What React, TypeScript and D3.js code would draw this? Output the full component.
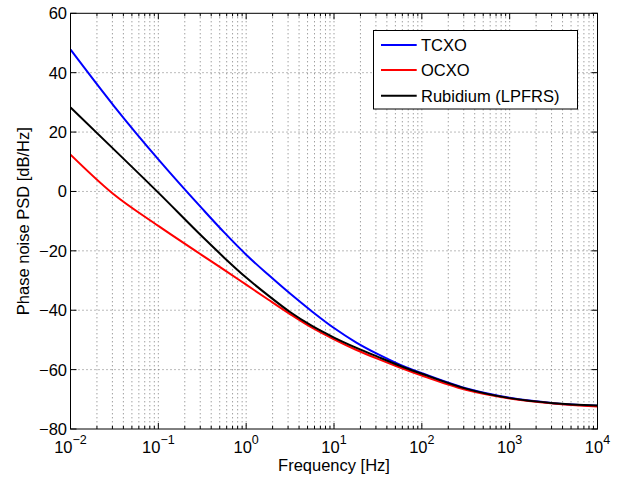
import React from "react";
import * as d3 from "d3";

// ---- data ----
const freqHz = [0.01, 0.0316, 0.1, 0.316, 0.562, 1, 1.778, 3.16, 5.62, 10, 17.78, 31.6, 56.2, 100, 316, 1000, 3162, 10000];
const tcxo = [47.8, 28.6, 10.8, -5.8, -13.8, -21.3, -28.0, -34.4, -40.4, -46.0, -50.8, -54.8, -58.3, -61.2, -66.3, -69.5, -71.3, -72.2];
const rubidium = [28.3, 14.0, -0.4, -15.2, -22.3, -29.0, -35.0, -40.6, -45.3, -49.2, -52.6, -55.7, -58.7, -61.4, -66.4, -69.6, -71.3, -72.1];
const ocxoFreqHz = [0.01, 0.03, 0.1, 0.316, 0.562, 1, 1.778, 3.16, 5.62, 10, 17.78, 31.6, 56.2, 100, 316, 1000, 3162, 10000];
const ocxo = [12.4, -0.6, -11.6, -21.5, -26.4, -31.4, -36.4, -41.3, -45.9, -49.8, -53.3, -56.4, -59.3, -62.0, -66.8, -69.7, -71.4, -72.4];

const seriesNames = ["TCXO", "OCXO", "Rubidium (LPFRS)"];
const seriesColors = ["#0000ff", "#ff0000", "#000000"];
const xDecades = [-2, -1, 0, 1, 2, 3, 4];
const yTicks = [60, 40, 20, 0, -20, -40, -60, -80];
const xLabel = "Frequency [Hz]";
const yLabel = "Phase noise PSD [dB/Hz]";

const W = 627;
const H = 477;
const L = 70.5, R = 597.5, T = 13.3, B = 429;
const FONT = "'Liberation Sans', Arial, Helvetica, sans-serif";

export default function App() {
  const x = d3.scaleLog().domain([1e-2, 1e4]).range([L, R]);
  const y = d3.scaleLinear().domain([-80, 60]).range([B, T]);

  const minorX: number[] = [];
  for (let d = -2; d < 4; d++) {
    for (let k = 2; k <= 9; k++) minorX.push(k * Math.pow(10, d));
  }
  const majorX = xDecades.map((d) => Math.pow(10, d));

  const line = d3
    .line<[number, number]>()
    .x((p) => x(p[0]))
    .y((p) => y(p[1]))
    .curve(d3.curveMonotoneX);

  const series = [
    { name: seriesNames[0], color: seriesColors[0], pts: freqHz.map((f, i) => [f, tcxo[i]] as [number, number]) },
    { name: seriesNames[1], color: seriesColors[1], pts: ocxoFreqHz.map((f, i) => [f, ocxo[i]] as [number, number]) },
    { name: seriesNames[2], color: seriesColors[2], pts: freqHz.map((f, i) => [f, rubidium[i]] as [number, number]) },
  ];
  const gridStyle = { stroke: "#555", strokeWidth: 0.8, strokeDasharray: "1,3" };

  const legX = 373.5, legY = 30.5, legW = 204, legH = 78.5;
  const legRows = [45, 70, 95.7];

  return (
    <svg
      width={W}
      height={H}
      style={{ position: "fixed", left: 0, top: 0, background: "#fff" }}
      fontFamily={FONT}
    >
      <rect x={0} y={0} width={W} height={H} fill="#fff" />
      <defs>
        <clipPath id="plot">
          <rect x={L} y={T} width={R - L} height={B - T} />
        </clipPath>
      </defs>
      {/* grid */}
      <g>
        {minorX.concat(majorX.slice(1, -1)).map((f, i) => (
          <line key={"gx" + i} x1={x(f)} x2={x(f)} y1={T} y2={B} {...gridStyle} />
        ))}
        {yTicks.slice(1, -1).map((v, i) => (
          <line key={"gy" + i} x1={L} x2={R} y1={y(v)} y2={y(v)} {...gridStyle} />
        ))}
      </g>
      {/* curves */}
      <g clipPath="url(#plot)">
        {series.map((s) => (
          <path key={s.name} d={line(s.pts) || ""} fill="none" stroke={s.color} strokeWidth={2} />
        ))}
      </g>
      {/* axes box */}
      <rect x={L} y={T} width={R - L} height={B - T} fill="none" stroke="#000" strokeWidth={1} />
      {/* ticks */}
      <g stroke="#000" strokeWidth={1}>
        {majorX.map((f, i) => (
          <g key={"mx" + i}>
            <line x1={x(f)} x2={x(f)} y1={B} y2={B - 6} />
            <line x1={x(f)} x2={x(f)} y1={T} y2={T + 6} />
          </g>
        ))}
        {minorX.map((f, i) => (
          <g key={"nx" + i}>
            <line x1={x(f)} x2={x(f)} y1={B} y2={B - 3} />
            <line x1={x(f)} x2={x(f)} y1={T} y2={T + 3} />
          </g>
        ))}
        {yTicks.map((v, i) => (
          <g key={"ty" + i}>
            <line x1={L} x2={L + 6} y1={y(v)} y2={y(v)} />
            <line x1={R} x2={R - 6} y1={y(v)} y2={y(v)} />
          </g>
        ))}
      </g>
      {/* y tick labels */}
      <g fontSize={16.5} fill="#000">
        {yTicks.map((v, i) => (
          <text key={"yl" + i} x={L - 3.5} y={y(v)} textAnchor="end" dominantBaseline="central">
            {v < 0 ? "\u2212" + Math.abs(v) : String(v)}
          </text>
        ))}
      </g>
      {/* x tick labels */}
      <g fill="#000">
        {xDecades.map((d, i) => (
          <text key={"xl" + i} x={x(Math.pow(10, d))} y={452.5} textAnchor="middle" fontSize={16.5}>
            <tspan>10</tspan>
            <tspan dy={-8.5} fontSize={12.5}>
              {d < 0 ? "\u2212" + Math.abs(d) : String(d)}
            </tspan>
          </text>
        ))}
      </g>
      {/* axis labels */}
      <text x={(L + R) / 2} y={471} textAnchor="middle" fontSize={16.5} fill="#000">
        {xLabel}
      </text>
      <text
        transform={`translate(29,${(T + B) / 2}) rotate(-90)`}
        textAnchor="middle"
        fontSize={16.5}
        fill="#000"
      >
        {yLabel}
      </text>
      {/* legend */}
      <g>
        <rect x={legX} y={legY} width={legW} height={legH} fill="#fff" stroke="#000" strokeWidth={1} />
        {series.map((s, i) => (
          <g key={"lg" + i}>
            <line x1={381} x2={416.7} y1={legRows[i]} y2={legRows[i]} stroke={s.color} strokeWidth={2} />
            <text x={421} y={legRows[i]} dominantBaseline="central" fontSize={16.5} fill="#000">
              {s.name}
            </text>
          </g>
        ))}
      </g>
    </svg>
  );
}
